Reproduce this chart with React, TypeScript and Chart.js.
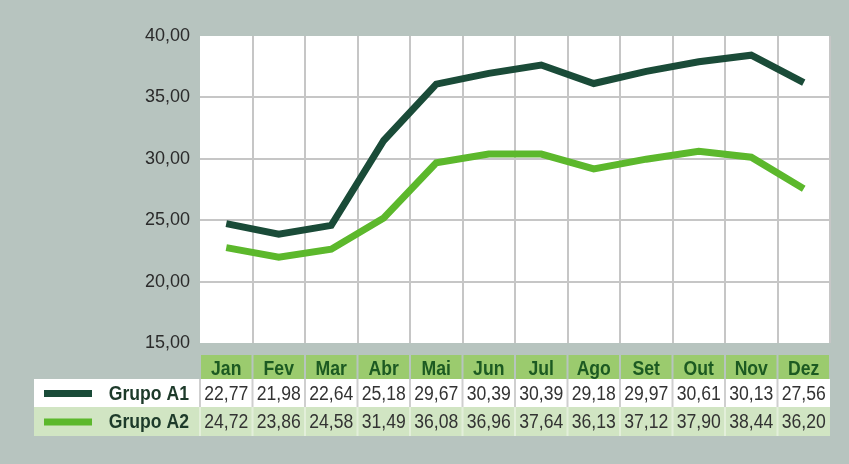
import React, { useEffect, useRef } from "react";
import { Chart, registerables } from "chart.js";

Chart.register(...registerables);

const months = ["Jan", "Fev", "Mar", "Abr", "Mai", "Jun", "Jul", "Ago", "Set", "Out", "Nov", "Dez"];
const grupoA1 = [22.77, 21.98, 22.64, 25.18, 29.67, 30.39, 30.39, 29.18, 29.97, 30.61, 30.13, 27.56];
const grupoA2 = [24.72, 23.86, 24.58, 31.49, 36.08, 36.96, 37.64, 36.13, 37.12, 37.9, 38.44, 36.2];
const seriesNames = ["Grupo A1", "Grupo A2"];
const yTicks = [15, 20, 25, 30, 35, 40];

const DARK = "#1a4b38";
const LIGHT = "#5cb82c";
const BG = "#b7c4bf";
const HEADER = "#9bcb6e";
const ROW2 = "#d1e5c3";
const FONT = "'Liberation Sans', Arial, sans-serif";
const SQUEEZE = 0.88;

const fmt = (v: number) => v.toFixed(2).replace(".", ",");

function squeezedText(ctx: any, text: string, x: number, y: number, align: string) {
  ctx.save();
  ctx.translate(x, y);
  ctx.scale(SQUEEZE, 1);
  ctx.textAlign = align;
  ctx.textBaseline = "middle";
  ctx.fillText(text, 0, 0);
  ctx.restore();
}

const tablePlugin = {
  id: "tablePlugin",
  beforeDraw(chart: any) {
    const { ctx, chartArea } = chart;
    ctx.save();
    ctx.fillStyle = "#ffffff";
    ctx.fillRect(chartArea.left, chartArea.top, chartArea.right - chartArea.left, chartArea.bottom - chartArea.top);
    ctx.restore();
  },
  afterDraw(chart: any) {
    const { ctx, chartArea } = chart;
    const xs = chart.scales.x;
    const colW = (chartArea.right - chartArea.left) / months.length;
    const headTop = chartArea.bottom + 12;
    const headH = 24;
    const rowH = [28, 29];
    const r1Top = headTop + headH;
    const r2Top = r1Top + rowH[0];
    const labelLeft = 34;
    ctx.save();
    months.forEach((m, i) => {
      const cx = xs.getPixelForValue(i);
      const x0 = cx - colW / 2 + 1;
      ctx.fillStyle = HEADER;
      ctx.fillRect(x0, headTop, colW - 2, headH);
      ctx.fillStyle = "#1c5a22";
      ctx.font = `bold 20px ${FONT}`;
      squeezedText(ctx, m, cx, headTop + headH / 2 + 2, "center");
    });
    const rows = [
      { name: seriesNames[0], data: grupoA1, bg: "#ffffff", sep: "#cfcfcf", swatch: DARK, top: r1Top, h: rowH[0] },
      { name: seriesNames[1], data: grupoA2, bg: ROW2, sep: "#e3efda", swatch: LIGHT, top: r2Top, h: rowH[1] },
    ];
    rows.forEach((r) => {
      ctx.fillStyle = r.bg;
      ctx.fillRect(labelLeft, r.top, chartArea.right - labelLeft, r.h);
      ctx.fillStyle = r.swatch;
      ctx.fillRect(44, r.top + r.h / 2 - 3, 48, 7);
      ctx.fillStyle = "#1d3a2a";
      ctx.font = `bold 20px ${FONT}`;
      squeezedText(ctx, r.name, 189, r.top + r.h / 2 + 1, "right");
      ctx.strokeStyle = r.sep;
      ctx.lineWidth = 2;
      for (let i = 0; i < months.length; i++) {
        const cx = xs.getPixelForValue(i);
        const x0 = cx - colW / 2;
        ctx.beginPath();
        ctx.moveTo(x0, r.top);
        ctx.lineTo(x0, r.top + r.h);
        ctx.stroke();
        ctx.fillStyle = "#333333";
        ctx.font = `20px ${FONT}`;
        squeezedText(ctx, fmt(r.data[i]), cx, r.top + r.h / 2 + 1, "center");
      }
    });
    ctx.restore();
  },
};

export default function App() {
  const ref = useRef<HTMLCanvasElement | null>(null);
  useEffect(() => {
    document.body.style.margin = "0";
    if (!ref.current) return;
    const chart = new Chart(ref.current, {
      type: "line",
      data: {
        labels: months,
        datasets: [
          {
            label: seriesNames[1],
            data: grupoA2,
            borderColor: DARK,
            borderWidth: 7,
            pointRadius: 0,
            tension: 0,
            borderJoinStyle: "miter",
          },
          {
            label: seriesNames[0],
            data: grupoA1,
            borderColor: LIGHT,
            borderWidth: 7,
            pointRadius: 0,
            tension: 0,
            borderJoinStyle: "miter",
          },
        ],
      },
      options: {
        animation: false,
        responsive: false,
        maintainAspectRatio: false,
        layout: { padding: { left: 0, top: 36, right: 19, bottom: 121 } },
        plugins: { legend: { display: false }, tooltip: { enabled: false } },
        scales: {
          x: {
            offset: true,
            grid: {
              offset: true,
              drawTicks: false,
              lineWidth: 2,
              color: (c: any) => (c.index === 0 ? "rgba(0,0,0,0)" : "#c6c6c6"),
            },
            border: { display: false },
            ticks: { display: false },
            afterFit: (s: any) => {
              s.height = 0;
            },
          },
          y: {
            min: 15,
            max: 40,
            afterBuildTicks: (s: any) => {
              s.ticks = yTicks.map((v) => ({ value: v }));
            },
            grid: {
              drawTicks: false,
              lineWidth: 2,
              color: (c: any) =>
                c.tick && (c.tick.value === 15 || c.tick.value === 40) ? "rgba(0,0,0,0)" : "#c6c6c6",
            },
            border: { display: false },
            ticks: {
              padding: 10,
              color: "#2b2b2b",
              font: { family: FONT, size: 18 },
              callback: (v: any) => fmt(Number(v)),
            },
            afterFit: (s: any) => {
              s.width = 200;
            },
          },
        },
      },
      plugins: [tablePlugin],
    });
    return () => chart.destroy();
  }, []);
  return (
    <div style={{ width: 849, height: 464, background: BG }}>
      <canvas ref={ref} width={849} height={464} style={{ display: "block" }} />
    </div>
  );
}
